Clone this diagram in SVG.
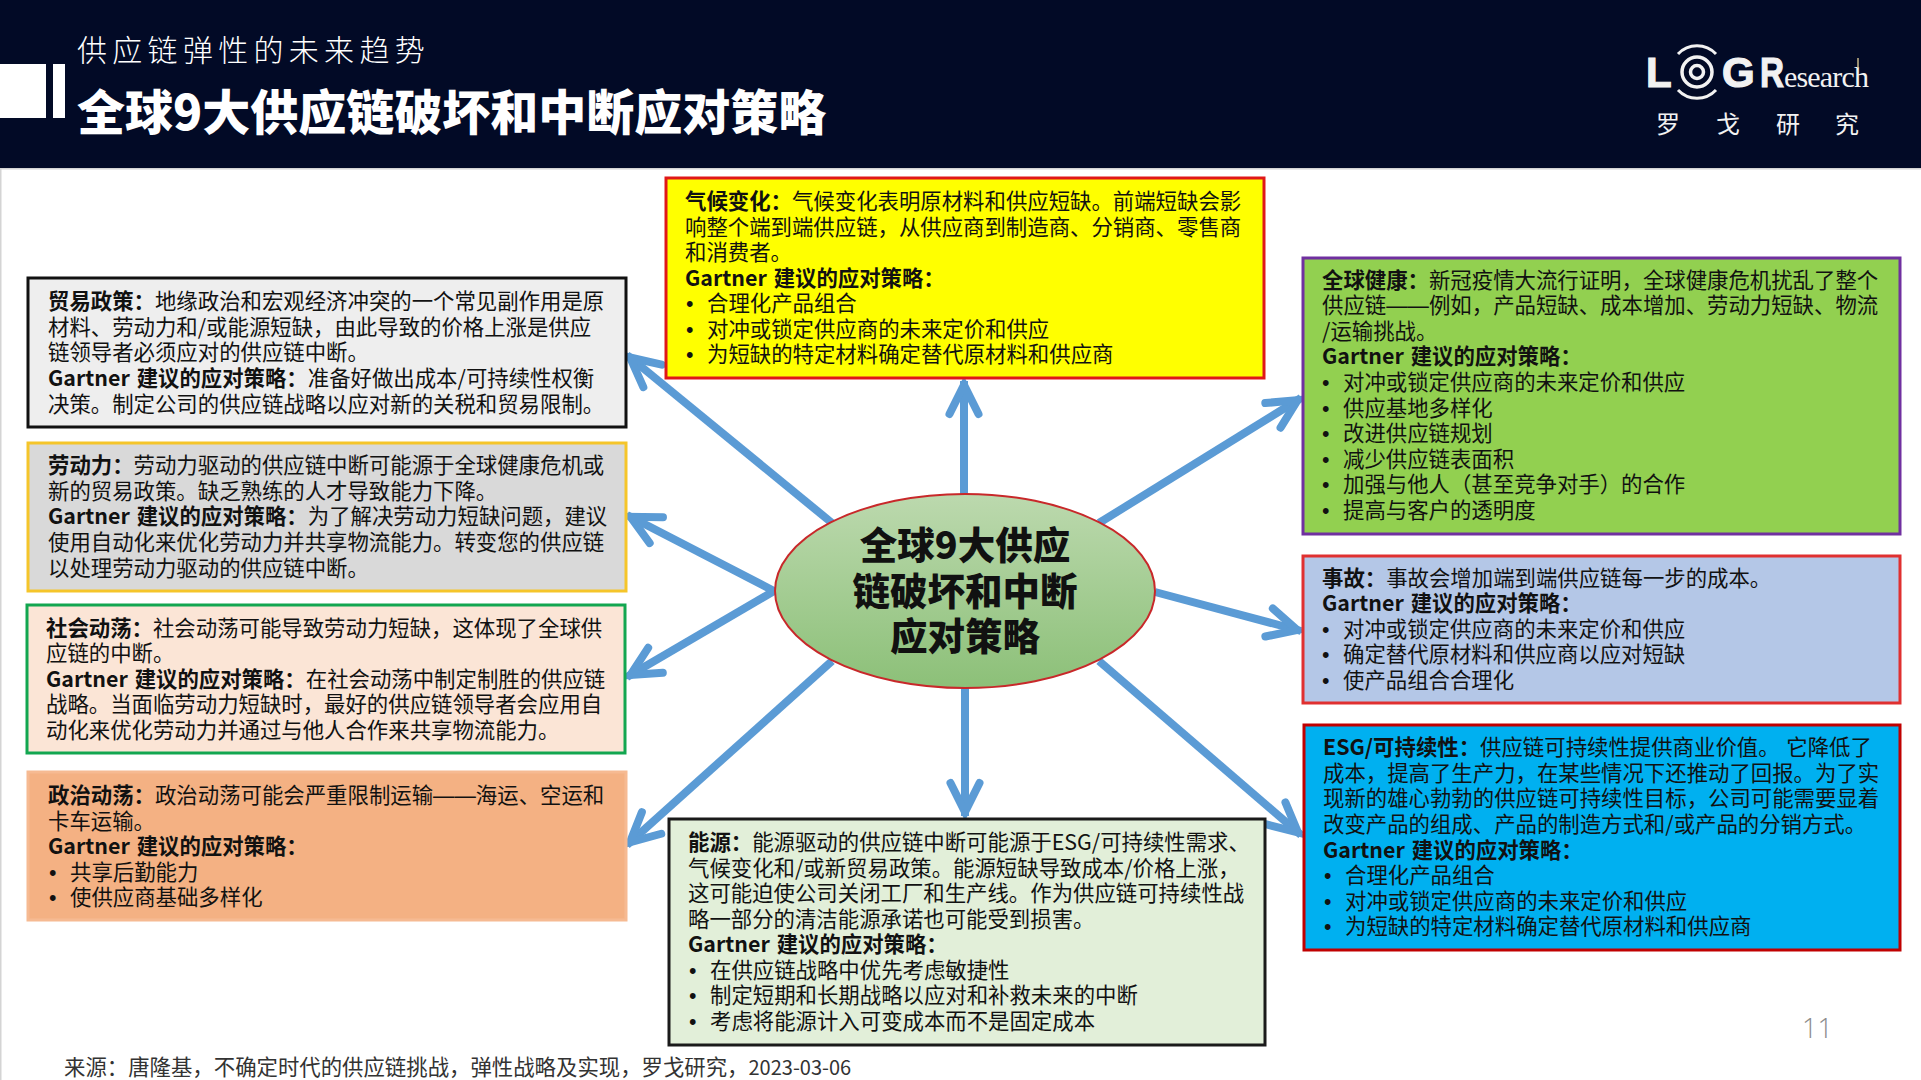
<svg xmlns="http://www.w3.org/2000/svg" width="1921" height="1080" viewBox="0 0 1921 1080">
<style>
text{font-family:"Noto Sans CJK SC","Noto Sans",sans-serif;fill:#111}
.b{font-size:21.4px;word-spacing:2px}
.s{font-weight:700}
.h{font-family:"Liberation Sans",sans-serif}
.d{font-size:21.3px;font-family:"Liberation Sans",sans-serif}
.box{stroke-width:3}
.a{fill:none;stroke:#5b9bd5;stroke-width:8;marker-end:url(#arr)}
.l{font-family:"Liberation Sans",sans-serif;font-weight:700;fill:#f2f2f2;stroke:#f2f2f2;stroke-width:1.2}
.c{font-size:24px;fill:#f2f2f2}
</style>
<defs>
<marker id="arr" markerUnits="userSpaceOnUse" markerWidth="50" markerHeight="50" refX="0" refY="0" orient="auto" overflow="visible">
<path d="M-33,-14.5L-4,0L-33,14.5" fill="none" stroke="#5b9bd5" stroke-width="8" stroke-linecap="round" stroke-linejoin="miter"/>
</marker>
<linearGradient id="eg" x1="0" y1="0" x2="0" y2="1"><stop offset="0" stop-color="#bcd9ae"/><stop offset="1" stop-color="#8cc078"/></linearGradient>
</defs>
<rect width="1921" height="1080" fill="#fff"/>
<rect x="0" y="168" width="1.5" height="912" fill="#d4d4d4"/>
<g id="header">
<rect width="1921" height="168" fill="#020a26"/>
<rect y="168" width="1921" height="1.5" fill="#d4d4d4"/>
<rect x="0" y="64" width="46" height="54" fill="#fff"/>
<rect x="53" y="64" width="12" height="54" fill="#fff"/>
<text x="77" y="61" font-size="30" font-weight="300" letter-spacing="5.3" style="fill:#fff">供应链弹性的未来趋势</text>
<text x="77" y="130" font-size="48" font-weight="900" style="fill:#fff">全球9大供应链破坏和中断应对策略</text>
</g>
<g id="logo">
<text class="l" x="1646" y="87" font-size="42">L</text>
<circle cx="1697" cy="72" r="6.5" fill="none" stroke="#f2f2f2" stroke-width="3.5"/>
<circle cx="1697" cy="72" r="15" fill="none" stroke="#f2f2f2" stroke-width="3.5"/>
<path d="M1678,54A26,26 0 0 1 1716,54M1716,90A26,26 0 0 1 1678,90" fill="none" stroke="#f2f2f2" stroke-width="3"/>
<text class="l" x="1722" y="87" font-size="42">G</text>
<text class="l" x="1760" y="87" font-size="42" textLength="24" lengthAdjust="spacingAndGlyphs">R</text>
<text x="1784" y="87" font-size="30" style="font-family:'Liberation Serif',serif;fill:#f2f2f2" textLength="85">esearch</text>
<path d="M1858,58V68" stroke="#c9b98a" stroke-width="1.5"/>
<text class="c" x="1656" y="133">罗</text>
<text class="c" x="1716" y="133">戈</text>
<text class="c" x="1776" y="133">研</text>
<text class="c" x="1835" y="133">究</text>
</g>
<g id="connectors">
<path class="a" d="M964,494V381"/>
<path class="a" d="M1099,523L1301,398"/>
<path class="a" d="M1155,592L1301,631"/>
<path class="a" d="M1099,661L1301,835"/>
<path class="a" d="M965,688V816"/>
<path class="a" d="M832,661L627,845"/>
<path class="a" d="M774,591L627,677"/>
<path class="a" d="M774,591L627,515"/>
<path class="a" d="M832,523L627,355"/>
</g>
<g id="climate">
<rect class="box" x="666" y="178" width="598" height="200" fill="#ffff00" stroke="#e01818"/>
<text class="b" x="685" y="209"><tspan class="s">气候变化&#xFF1A;</tspan>气候变化表明原材料和供应短缺。前端短缺会影</text>
<text class="b" x="685" y="235">响整个端到端供应链&#xFF0C;从供应商到制造商、分销商、零售商</text>
<text class="b" x="685" y="260">和消费者。</text>
<text class="b s" x="685" y="286">Gartner 建议的应对策略&#xFF1A;</text>
<text class="d" x="686" y="311">•</text><text class="b" x="707" y="311">合理化产品组合</text>
<text class="d" x="686" y="337">•</text><text class="b" x="707" y="337">对冲或锁定供应商的未来定价和供应</text>
<text class="d" x="686" y="362">•</text><text class="b" x="707" y="362">为短缺的特定材料确定替代原材料和供应商</text>
</g>
<g id="trade">
<rect class="box" x="28" y="278" width="598" height="149" fill="#eeeeee" stroke="#111"/>
<text class="b" x="48" y="309"><tspan class="s">贸易政策&#xFF1A;</tspan>地缘政治和宏观经济冲突的一个常见副作用是原</text>
<text class="b" x="48" y="335">材料、劳动力和/或能源短缺&#xFF0C;由此导致的价格上涨是供应</text>
<text class="b" x="48" y="360">链领导者必须应对的供应链中断。</text>
<text class="b" x="48" y="386"><tspan class="s">Gartner 建议的应对策略&#xFF1A;</tspan>准备好做出成本/可持续性权衡</text>
<text class="b" x="48" y="412">决策。制定公司的供应链战略以应对新的关税和贸易限制。</text>
</g>
<g id="labor">
<rect class="box" x="28" y="443" width="598" height="148" fill="#d9d9d9" stroke="#f5c52a"/>
<text class="b" x="48" y="473"><tspan class="s">劳动力&#xFF1A;</tspan>劳动力驱动的供应链中断可能源于全球健康危机或</text>
<text class="b" x="48" y="499">新的贸易政策。缺乏熟练的人才导致能力下降。</text>
<text class="b" x="48" y="524"><tspan class="s">Gartner 建议的应对策略&#xFF1A;</tspan>为了解决劳动力短缺问题&#xFF0C;建议</text>
<text class="b" x="48" y="550">使用自动化来优化劳动力并共享物流能力。转变您的供应链</text>
<text class="b" x="48" y="576">以处理劳动力驱动的供应链中断。</text>
</g>
<g id="social">
<rect class="box" x="27" y="605" width="598" height="148" fill="#fbe5d6" stroke="#12a650"/>
<text class="b" x="46" y="636"><tspan class="s">社会动荡&#xFF1A;</tspan>社会动荡可能导致劳动力短缺&#xFF0C;这体现了全球供</text>
<text class="b" x="46" y="661">应链的中断。</text>
<text class="b" x="46" y="687"><tspan class="s">Gartner 建议的应对策略&#xFF1A;</tspan>在社会动荡中制定制胜的供应链</text>
<text class="b" x="46" y="712">战略。当面临劳动力短缺时&#xFF0C;最好的供应链领导者会应用自</text>
<text class="b" x="46" y="738">动化来优化劳动力并通过与他人合作来共享物流能力。</text>
</g>
<g id="politics">
<rect class="box" x="28" y="772" width="598" height="148" fill="#f4b183" stroke="#f6ba92"/>
<text class="b" x="48" y="803"><tspan class="s">政治动荡&#xFF1A;</tspan>政治动荡可能会严重限制运输<tspan class="h">&#x2014;&#x2014;</tspan>海运、空运和</text>
<text class="b" x="48" y="829">卡车运输。</text>
<text class="b s" x="48" y="854">Gartner 建议的应对策略&#xFF1A;</text>
<text class="d" x="49" y="880">•</text><text class="b" x="70" y="880">共享后勤能力</text>
<text class="d" x="49" y="905">•</text><text class="b" x="70" y="905">使供应商基础多样化</text>
</g>
<g id="energy">
<rect class="box" x="669" y="819" width="596" height="226" fill="#e2efd9" stroke="#1a1a1a"/>
<text class="b" x="688" y="850"><tspan class="s">能源&#xFF1A;</tspan>能源驱动的供应链中断可能源于ESG/可持续性需求、</text>
<text class="b" x="688" y="876">气候变化和/或新贸易政策。能源短缺导致成本/价格上涨&#xFF0C;</text>
<text class="b" x="688" y="901">这可能迫使公司关闭工厂和生产线。作为供应链可持续性战</text>
<text class="b" x="688" y="927">略一部分的清洁能源承诺也可能受到损害。</text>
<text class="b s" x="688" y="952">Gartner 建议的应对策略&#xFF1A;</text>
<text class="d" x="689" y="978">•</text><text class="b" x="710" y="978">在供应链战略中优先考虑敏捷性</text>
<text class="d" x="689" y="1003">•</text><text class="b" x="710" y="1003">制定短期和长期战略以应对和补救未来的中断</text>
<text class="d" x="689" y="1029">•</text><text class="b" x="710" y="1029">考虑将能源计入可变成本而不是固定成本</text>
</g>
<g id="health">
<rect class="box" x="1303" y="258" width="597" height="276" fill="#92d050" stroke="#7030a0"/>
<text class="b" x="1322" y="288"><tspan class="s">全球健康&#xFF1A;</tspan>新冠疫情大流行证明&#xFF0C;全球健康危机扰乱了整个</text>
<text class="b" x="1322" y="313">供应链<tspan class="h">&#x2014;&#x2014;</tspan>例如&#xFF0C;产品短缺、成本增加、劳动力短缺、物流</text>
<text class="b" x="1322" y="339">/运输挑战。</text>
<text class="b s" x="1322" y="364">Gartner 建议的应对策略&#xFF1A;</text>
<text class="d" x="1322" y="390">•</text><text class="b" x="1343" y="390">对冲或锁定供应商的未来定价和供应</text>
<text class="d" x="1322" y="416">•</text><text class="b" x="1343" y="416">供应基地多样化</text>
<text class="d" x="1322" y="441">•</text><text class="b" x="1343" y="441">改进供应链规划</text>
<text class="d" x="1322" y="467">•</text><text class="b" x="1343" y="467">减少供应链表面积</text>
<text class="d" x="1322" y="492">•</text><text class="b" x="1343" y="492">加强与他人&#xFF08;甚至竞争对手&#xFF09;的合作</text>
<text class="d" x="1322" y="518">•</text><text class="b" x="1343" y="518">提高与客户的透明度</text>
</g>
<g id="accident">
<rect class="box" x="1303" y="556" width="597" height="147" fill="#b4c7e7" stroke="#e03030"/>
<text class="b" x="1322" y="586"><tspan class="s">事故&#xFF1A;</tspan>事故会增加端到端供应链每一步的成本。</text>
<text class="b s" x="1322" y="611">Gartner 建议的应对策略&#xFF1A;</text>
<text class="d" x="1322" y="637">•</text><text class="b" x="1343" y="637">对冲或锁定供应商的未来定价和供应</text>
<text class="d" x="1322" y="662">•</text><text class="b" x="1343" y="662">确定替代原材料和供应商以应对短缺</text>
<text class="d" x="1322" y="688">•</text><text class="b" x="1343" y="688">使产品组合合理化</text>
</g>
<g id="esg">
<rect class="box" x="1304" y="725" width="596" height="225" fill="#00b0f0" stroke="#c00000"/>
<text class="b" x="1323" y="755"><tspan class="s">ESG/可持续性&#xFF1A;</tspan>供应链可持续性提供商业价值。 它降低了</text>
<text class="b" x="1323" y="781">成本&#xFF0C;提高了生产力&#xFF0C;在某些情况下还推动了回报。为了实</text>
<text class="b" x="1323" y="806">现新的雄心勃勃的供应链可持续性目标&#xFF0C;公司可能需要显着</text>
<text class="b" x="1323" y="832">改变产品的组成、产品的制造方式和/或产品的分销方式。</text>
<text class="b s" x="1323" y="858">Gartner 建议的应对策略&#xFF1A;</text>
<text class="d" x="1324" y="883">•</text><text class="b" x="1345" y="883">合理化产品组合</text>
<text class="d" x="1324" y="909">•</text><text class="b" x="1345" y="909">对冲或锁定供应商的未来定价和供应</text>
<text class="d" x="1324" y="934">•</text><text class="b" x="1345" y="934">为短缺的特定材料确定替代原材料和供应商</text>
</g>
<g id="center">
<ellipse cx="965" cy="591" rx="190" ry="97" fill="url(#eg)" stroke="#c8282a" stroke-width="2"/>
<g text-anchor="middle" font-size="37.5" font-weight="900">
<text x="965" y="559">全球9大供应</text>
<text x="965" y="605">链破坏和中断</text>
<text x="965" y="650">应对策略</text>
</g>
</g>
<text id="source" x="64" y="1075" font-size="21.4" style="fill:#333">来源&#xFF1A;唐隆基&#xFF0C;不确定时代的供应链挑战&#xFF0C;弹性战略及实现&#xFF0C;罗戈研究&#xFF0C;<tspan font-size="20">2023-03-06</tspan></text>
<text id="page" x="1802" y="1038" font-size="27" font-weight="300" style="font-family:'Open Sans',sans-serif;fill:#8c8c8c">11</text>
</svg>
